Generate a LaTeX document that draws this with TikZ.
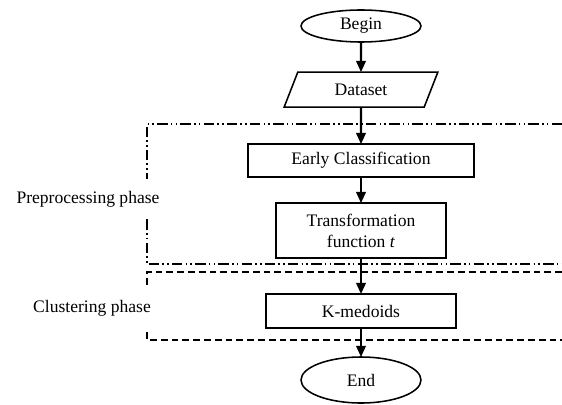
\documentclass[tikz,border=0pt]{standalone}
\usepackage{fontspec}
\setmainfont{Liberation Serif}
\usetikzlibrary{positioning,shapes.geometric,arrows.meta}

\begin{document}
\begin{tikzpicture}
[x=0.25mm,y=-0.25mm,
 every node/.style={font=\fontsize{12.5}{15}\selectfont,inner sep=0mm,outer sep=0mm},
 term/.style={ellipse,draw=black,line width=1.1pt,minimum width=30mm},
 io/.style={trapezium,trapezium left angle=64,trapezium right angle=116,draw=black,line width=1.1pt,
            minimum width=38.5mm,minimum height=8.75mm,trapezium stretches=true},
 proc/.style={rectangle,draw=black,line width=1.1pt,align=center},
 phase/.style={fill=white,inner xsep=0.5mm,inner ysep=3mm},
 flow/.style={-{Triangle[length=2.8mm,width=2.4mm]},line width=1.5pt},
 prepro/.style={line width=0.9pt,dash pattern=on 2.6mm off 0.8mm on 0.4mm off 0.8mm on 0.4mm off 0.8mm},
 clust/.style={line width=0.9pt,dash pattern=on 1.7mm off 1mm}]
\useasboundingbox (0,0) rectangle (562,405);

\node[term] (begin) at (361,26) [minimum height=8mm] {Begin};
\node[io]   (data)  [on grid,below=15.9mm of begin] {Dataset};
\node[proc] (early) [on grid,below=17.75mm of data,minimum width=56.5mm,minimum height=8.25mm] {Early Classification};
\node[proc] (trans) [on grid,below=17.5mm of early,minimum width=42.5mm,minimum height=13.75mm] {Transformation\\function \textit{t}};
\node[proc] (kmed)  [on grid,below=20.1mm of trans,minimum width=47.5mm,minimum height=8.5mm] {K-medoids};
\node[term] (end)   [on grid,below=17.25mm of kmed,minimum height=11.5mm] {End};

% phase frames, open to the right
\draw[prepro] (562,124) -- (147,124) -- (147,264) -- (562,264);
\draw[clust]  (562,272) -- (147,272) -- (147,340) -- (562,340);
\node[phase] (pre)  at (88,199) {Preprocessing phase};
\node[phase] (clu)  at (92,308) {Clustering phase};

\path[flow] (begin) edge (data);
\path[flow] (data)  edge (early);
\path[flow] (early) edge (trans);
\path[flow] (trans) edge (kmed);
\path[flow] (kmed)  edge (end);
\end{tikzpicture}
\end{document}
